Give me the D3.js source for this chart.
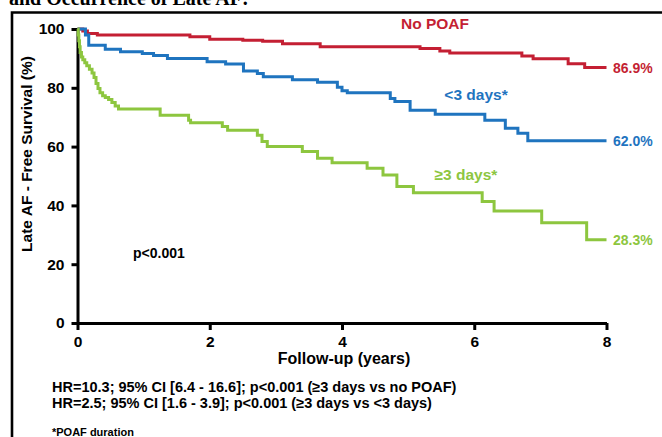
<!DOCTYPE html>
<html>
<head>
<meta charset="utf-8">
<script src="https://cdn.jsdelivr.net/npm/d3@7"></script>
<style>
  body { margin: 0; background: #fff; }
  svg { display: block; }
  text { font-family: Arial, "Liberation Sans", sans-serif; font-weight: bold; }
</style>
</head>
<body>
<svg id="chart" width="662" height="437"></svg>
<script>
// Kaplan-Meier curves: time (years) and survival (%)
const noPoafT = [0, 0.08, 0.15, 0.3, 1.7, 2.0, 2.5, 2.8, 3.1, 3.67, 5.18, 5.48, 5.63, 6.72, 6.89, 7.42, 7.67, 8.0];
const noPoafV = [100, 99.3, 98.5, 98.0, 97.4, 96.5, 96.2, 95.8, 95.0, 94.0, 93.4, 92.5, 91.8, 90.8, 89.9, 88.2, 86.9, 86.9];

const shortT = [0, 0.12, 0.17, 0.42, 0.65, 0.98, 1.15, 1.36, 1.96, 2.24, 2.51, 2.72, 2.81, 3.25, 3.63, 3.93, 4.0, 4.08, 4.73, 4.8, 5.03, 5.41, 6.16, 6.47, 6.66, 6.81, 8.0];
const shortV = [100, 98, 94.5, 93.1, 92.3, 91.7, 91.0, 90.0, 88.9, 88.1, 85.7, 84.9, 83.8, 82.7, 81.9, 80.2, 79.0, 78.3, 76.4, 75.3, 72.4, 71.0, 69.0, 66.2, 64.5, 62.0, 62.0];

const longT = [0, 0.01, 0.02, 0.03, 0.04, 0.06, 0.08, 0.11, 0.14, 0.18, 0.22, 0.25, 0.28, 0.31, 0.34, 0.38, 0.42, 0.47, 0.52, 0.57, 0.62, 1.25, 1.68, 1.71, 2.19, 2.27, 2.72, 2.79, 2.87, 3.4, 3.63, 3.85, 4.38, 4.62, 4.83, 5.08, 6.12, 6.3, 7.02, 7.7, 8.0];
const longV = [100, 98, 96, 94, 92, 90.5, 89.5, 88.5, 87.5, 86.3, 85, 83.5, 81.5, 79.8, 78.3, 77.3, 76.7, 76, 75, 73.8, 72.8, 70.7, 69.0, 68.1, 66.8, 65.6, 63.9, 61.7, 60.0, 58.3, 56.0, 54.5, 52.6, 50.3, 46.4, 44.3, 41.3, 38.1, 34.1, 28.3, 28.3];

const groupNames = ["No POAF", "<3 days*", "\u22653 days*"];
const groupColors = ["#c41f33", "#1f74bf", "#8dc63f"];
const endLabels = ["86.9%", "62.0%", "28.3%"];

const xTicks = [0, 2, 4, 6, 8];
const yTicks = [0, 20, 40, 60, 80, 100];

const series = [
  { name: groupNames[0], color: groupColors[0], end: endLabels[0], pts: noPoafT.map((t, i) => [t, noPoafV[i]]) },
  { name: groupNames[1], color: groupColors[1], end: endLabels[1], pts: shortT.map((t, i) => [t, shortV[i]]) },
  { name: groupNames[2], color: groupColors[2], end: endLabels[2], pts: longT.map((t, i) => [t, longV[i]]) }
];

const svg = d3.select("#chart");

// slide title, cut off at the top like the source, and its frame
svg.append("text")
  .attr("x", 9).attr("y", 5)
  .style("font-family", "'Liberation Serif', 'Times New Roman', serif")
  .style("font-size", "20px")
  .text("and Occurrence of Late AF:");

svg.append("path")
  .attr("d", "M12,440 V12.5 H670")
  .attr("fill", "none").attr("stroke", "#000").attr("stroke-width", 2.6);

const x = d3.scaleLinear().domain([0, 8]).range([77.5, 606.5]);
const y = d3.scaleLinear().domain([0, 100]).range([323, 29]);

// axes
const yAxis = svg.append("g")
  .attr("transform", "translate(77.5,0)")
  .call(d3.axisLeft(y).tickValues(yTicks).tickSize(6).tickSizeOuter(0).tickPadding(7));
const xAxis = svg.append("g")
  .attr("transform", "translate(0,323)")
  .call(d3.axisBottom(x).tickValues(xTicks).tickSize(7).tickSizeOuter(0).tickPadding(6));

[yAxis, xAxis].forEach(a => {
  a.select(".domain").attr("stroke-width", 3);
  a.selectAll(".tick line").attr("stroke-width", 3);
  a.selectAll(".tick text").style("font-size", "15.5px").attr("fill", "#000");
});

// curves
const line = d3.line()
  .x(d => x(d[0])).y(d => y(d[1]))
  .curve(d3.curveStepAfter);

svg.append("g").selectAll("path").data(series).join("path")
  .attr("d", d => line(d.pts))
  .attr("fill", "none")
  .attr("stroke", d => d.color)
  .attr("stroke-width", 3)
  .attr("stroke-linejoin", "miter");

// end-of-curve percentages
svg.append("g").selectAll("text").data(series).join("text")
  .attr("x", 613)
  .attr("y", d => y(d.pts[d.pts.length - 1][1]) + 5)
  .attr("fill", d => d.color)
  .style("font-size", "14px")
  .text(d => d.end);

// group names
const namePos = [[435, 29], [476, 100], [466, 180]];
svg.append("g").selectAll("text").data(series).join("text")
  .attr("x", (d, i) => namePos[i][0])
  .attr("y", (d, i) => namePos[i][1])
  .attr("text-anchor", "middle")
  .attr("fill", d => d.color)
  .style("font-size", "15.5px")
  .text(d => d.name);

svg.append("text")
  .attr("x", 133).attr("y", 258)
  .style("font-size", "14px")
  .text("p<0.001");

// axis titles
svg.append("text")
  .attr("x", 344).attr("y", 364)
  .attr("text-anchor", "middle")
  .style("font-size", "16px")
  .text("Follow-up (years)");

svg.append("text")
  .attr("transform", "translate(32,154) rotate(-90)")
  .attr("text-anchor", "middle")
  .style("font-size", "15.5px")
  .text("Late AF - Free Survival (%)");

// footnotes
const notes = [
  "HR=10.3; 95% CI [6.4 - 16.6]; p<0.001 (\u22653 days vs no POAF)",
  "HR=2.5; 95% CI [1.6 - 3.9]; p<0.001 (\u22653 days vs <3 days)"
];
svg.append("g").selectAll("text").data(notes).join("text")
  .attr("x", 52)
  .attr("y", (d, i) => 392 + i * 16)
  .style("font-size", "14.5px")
  .text(d => d);

svg.append("text")
  .attr("x", 52).attr("y", 436)
  .style("font-size", "11px")
  .text("*POAF duration");
</script>
</body>
</html>
